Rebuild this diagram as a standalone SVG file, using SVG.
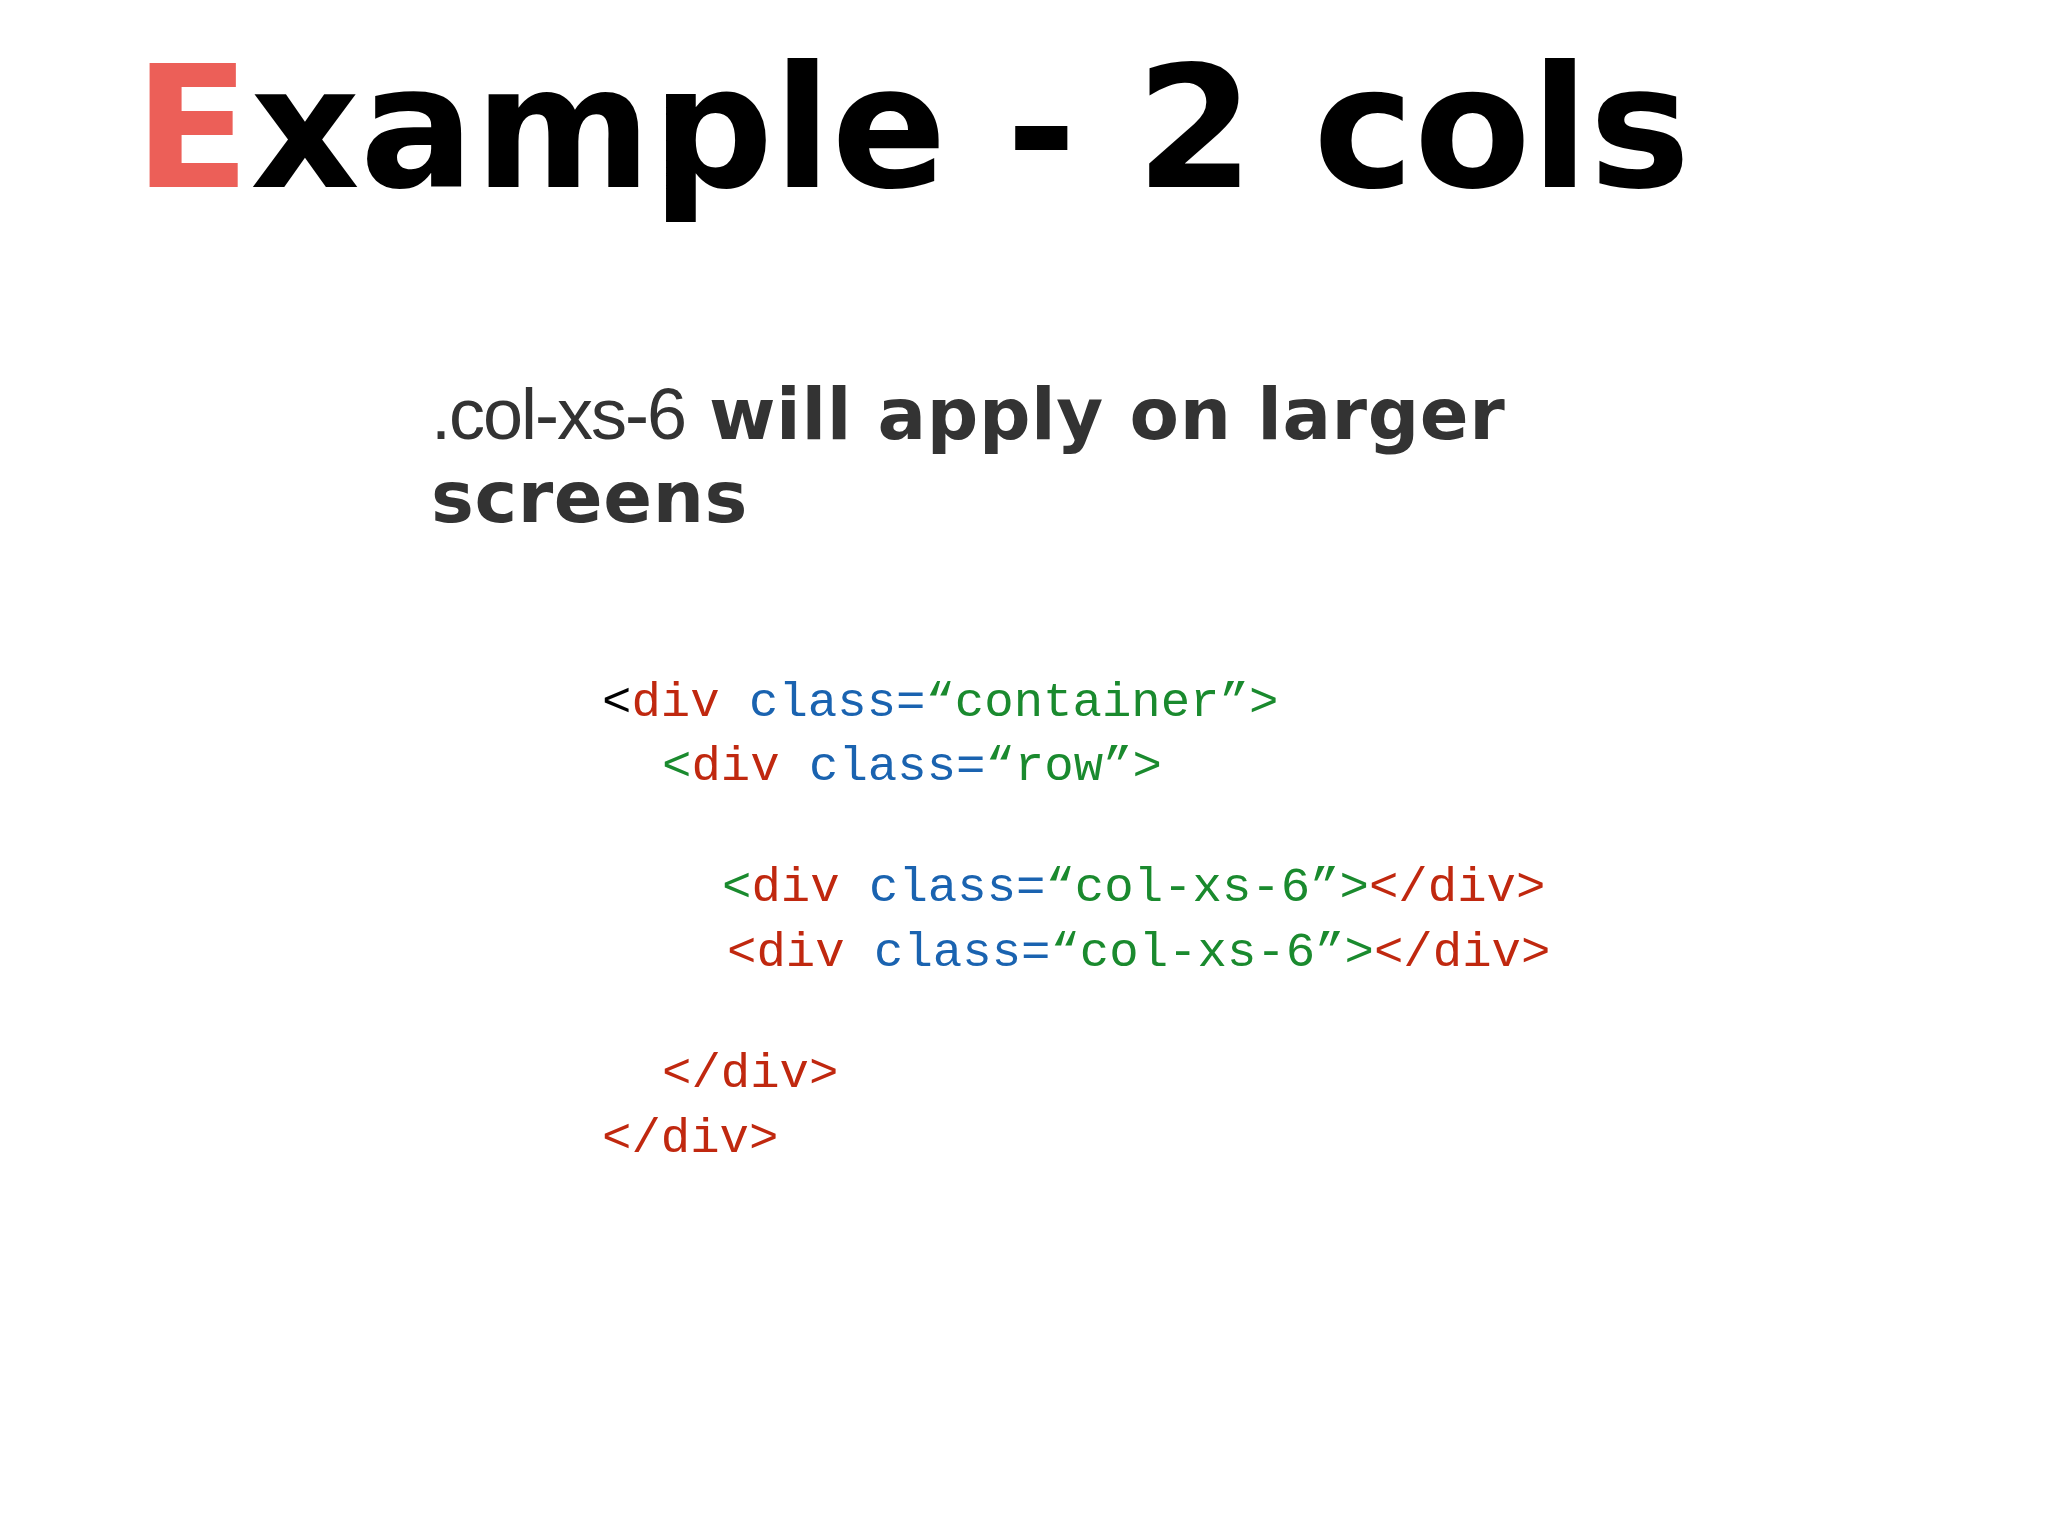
<svg xmlns="http://www.w3.org/2000/svg" width="2048" height="1536" viewBox="0 0 2048 1536">
<style>
.t{font-family:"DejaVu Sans",sans-serif;font-weight:bold}
.c{font-family:"Liberation Mono",monospace;font-size:49px;white-space:pre}
.r{fill:#c0280f}.b{fill:#1a63b0}.g{fill:#1a8a2e}.k{fill:#000}
</style>
<rect width="2048" height="1536" fill="#fff"/>
<g id="title"><text class="t" x="134" y="187" font-size="170" fill="#000"><tspan fill="#ec5f58">E</tspan>xample - 2 cols</text></g>
<g id="subtitle" fill="#333">
<text x="431" y="439" font-size="72"><tspan font-family="Liberation Sans,sans-serif" letter-spacing="-2">.col-xs-6</tspan><tspan class="t" x="709" letter-spacing="0.6">will apply on larger</tspan></text>
<text class="t" x="431" y="522" font-size="72" letter-spacing="0.6">screens</text>
</g>
<g id="code">
<text class="c" x="602" y="716"><tspan class="k">&lt;</tspan><tspan class="r">div</tspan> <tspan class="b">class=</tspan><tspan class="g">“container”&gt;</tspan></text>
<text class="c" x="662" y="780"><tspan class="g">&lt;</tspan><tspan class="r">div</tspan> <tspan class="b">class=</tspan><tspan class="g">“row”&gt;</tspan></text>
<text class="c" x="722" y="901"><tspan class="g">&lt;</tspan><tspan class="r">div</tspan> <tspan class="b">class=</tspan><tspan class="g">“col-xs-6”&gt;</tspan><tspan class="r">&lt;/div&gt;</tspan></text>
<text class="c" x="727" y="966"><tspan class="r">&lt;div</tspan> <tspan class="b">class=</tspan><tspan class="g">“col-xs-6”&gt;</tspan><tspan class="r">&lt;/div&gt;</tspan></text>
<text class="c r" x="662" y="1087">&lt;/div&gt;</text>
<text class="c r" x="602" y="1152">&lt;/div&gt;</text>
</g>
</svg>
